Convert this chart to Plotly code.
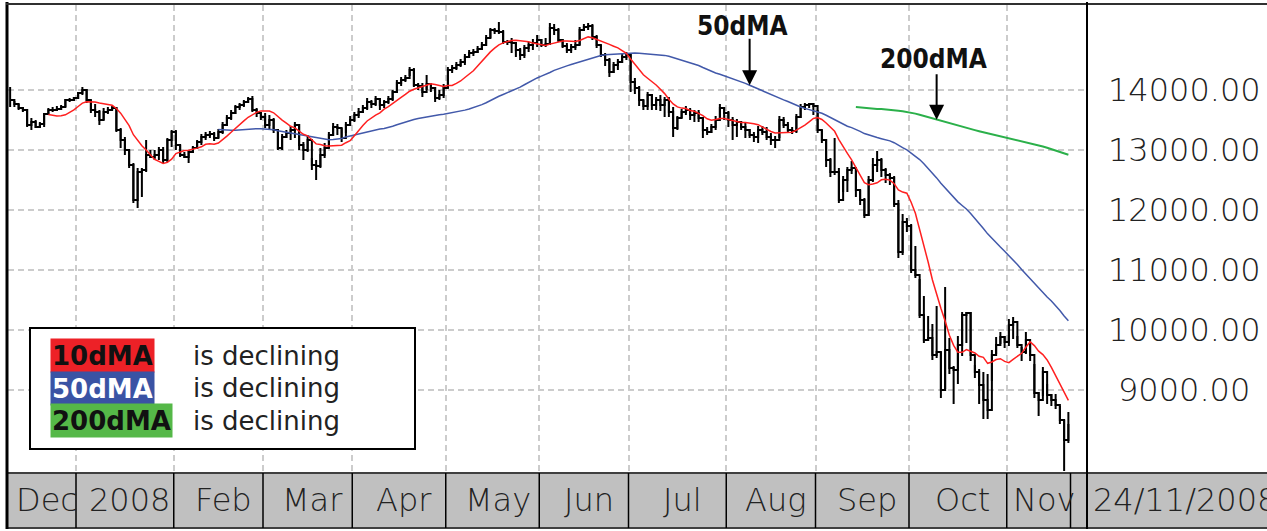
import numpy as np
import pandas as pd
import plotly.graph_objects as go

# ---------------- data ----------------
dates = pd.bdate_range("2007-12-10", "2008-11-21")          # one bar per weekday
month_labels = ["Dec", "2008", "Feb", "Mar", "Apr", "May", "Jun",
                "Jul", "Aug", "Sep", "Oct", "Nov"]
ytick_values = [9000, 10000, 11000, 12000, 13000, 14000]
last_date_label = "24/11/2008"

close = [
    13833, 13767, 13700, 13667, 13417, 13467, 13383, 13433, 13600, 13667,
    13667, 13683, 13717, 13833, 13833, 13867, 13950, 14000, 13833, 13667,
    13633, 13500, 13633, 13667, 13700, 13333, 13167, 13000, 12750, 12167,
    12633, 12667, 12917, 12883, 12917, 13000, 12833, 13167, 13300, 13083,
    12917, 12883, 12967, 13033, 13133, 13217, 13250, 13267, 13200, 13300,
    13417, 13533, 13617, 13717, 13750, 13800, 13850, 13667, 13617, 13550,
    13417, 13500, 13333, 13033, 13217, 13283, 13333, 13417, 13083, 13000,
    13167, 12750, 12733, 12917, 13033, 13250, 13383, 13367, 13200, 13417,
    13500, 13583, 13633, 13700, 13800, 13767, 13850, 13750, 13800, 13850,
    13967, 14117, 14167, 14200, 14333, 14083, 14067, 13967, 14100, 14033,
    13867, 13917, 14033, 14333, 14367, 14417, 14467, 14550, 14617, 14633,
    14683, 14750, 14867, 15000, 14983, 14967, 14800, 14800, 14783, 14667,
    14583, 14700, 14750, 14783, 14833, 14750, 14767, 15033, 15000, 14833,
    14733, 14667, 14717, 14750, 15000, 15050, 15067, 14883, 14750, 14583,
    14500, 14300, 14417, 14467, 14550, 14583, 14133, 14033, 13833, 13733,
    13917, 13750, 13833, 13750, 13833, 13633, 13367, 13533, 13633, 13667,
    13583, 13617, 13533, 13333, 13300, 13383, 13500, 13700, 13617, 13500,
    13417, 13467, 13383, 13333, 13250, 13217, 13333, 13300, 13217, 13167,
    13167, 13500, 13417, 13333, 13317, 13550, 13717, 13750, 13767, 13733,
    13333, 13167, 12833, 12633, 12633, 12167, 12500, 12667, 12700, 12333,
    12167, 11917, 12500, 12750, 12833, 12667, 12583, 12533, 12100, 11300,
    11800, 11733, 11000, 10917, 10250, 9833, 9867, 9583, 9633, 9000,
    9667, 9367, 9333, 9750, 10250, 10283, 9583, 9300, 9083, 8833,
    8667, 9583, 9750, 9883, 9800, 10083, 10133, 9750, 9633, 9833,
    9583, 8950, 8833, 9300, 8917, 8833, 8750, 8500, 8167, 8433,
]

high = [
    14050, 13817, 13767, 13717, 13683, 13533, 13500, 13467, 13617, 13700,
    13717, 13733, 13750, 13850, 13867, 13883, 13967, 14050, 14017, 13833,
    13767, 13667, 13700, 13717, 13733, 13717, 13367, 13217, 13000, 12783,
    12700, 12700, 13167, 13000, 13000, 13050, 13050, 13200, 13333, 13333,
    13083, 12967, 13000, 13067, 13167, 13267, 13300, 13317, 13300, 13350,
    13467, 13583, 13667, 13750, 13783, 13833, 13883, 13900, 13700, 13633,
    13617, 13583, 13533, 13350, 13267, 13333, 13400, 13467, 13433, 13133,
    13250, 12867, 12833, 13033, 13117, 13300, 13450, 13433, 13367, 13467,
    13567, 13633, 13700, 13750, 13867, 13833, 13900, 13867, 13833, 13900,
    14000, 14167, 14217, 14250, 14383, 14367, 14117, 14117, 14250, 14117,
    14050, 14000, 14100, 14383, 14417, 14467, 14517, 14600, 14667, 14683,
    14733, 14800, 14917, 15033, 15033, 15133, 15000, 14833, 14867, 14800,
    14700, 14750, 14800, 14850, 14917, 14850, 14867, 15117, 15100, 15033,
    14850, 14783, 14767, 14833, 15050, 15100, 15117, 15100, 14917, 14750,
    14617, 14533, 14467, 14517, 14617, 14633, 14600, 14200, 14067, 13833,
    13967, 13933, 13883, 13917, 13883, 13883, 13717, 13567, 13683, 13733,
    13700, 13667, 13667, 13550, 13383, 13433, 13567, 13767, 13717, 13650,
    13550, 13517, 13483, 13467, 13350, 13300, 13400, 13400, 13383, 13283,
    13233, 13567, 13550, 13467, 13383, 13600, 13767, 13783, 13783, 13783,
    13667, 13333, 13183, 12867, 13200, 12700, 12567, 12717, 12817, 12683,
    12333, 12200, 12567, 12867, 12983, 12867, 12700, 12617, 12567, 12167,
    11933, 11867, 11767, 11400, 10850, 10567, 10233, 10100, 10400, 9633,
    10717, 9867, 9400, 9900, 10300, 10300, 10300, 9417, 9350, 9300,
    9267, 9667, 9883, 9967, 9900, 10183, 10217, 9900, 9717, 9967,
    9767, 9433, 8967, 9383, 9100, 8933, 8933, 8733, 8500, 8633,
]

low = [
    13717, 13717, 13667, 13633, 13383, 13333, 13367, 13367, 13383, 13583,
    13633, 13650, 13667, 13717, 13800, 13817, 13850, 13917, 13783, 13617,
    13550, 13417, 13500, 13600, 13667, 13300, 13033, 12917, 12700, 12117,
    12033, 12217, 12633, 12867, 12833, 12833, 12783, 12800, 13050, 13000,
    12883, 12867, 12783, 12950, 13017, 13083, 13167, 13200, 13150, 13200,
    13267, 13400, 13500, 13600, 13667, 13717, 13783, 13633, 13550, 13500,
    13367, 13333, 13283, 13000, 13000, 13200, 13167, 13200, 13000, 12833,
    12967, 12667, 12500, 12700, 12867, 13033, 13233, 13250, 13133, 13283,
    13400, 13467, 13533, 13617, 13667, 13700, 13733, 13667, 13700, 13767,
    13817, 13950, 14067, 14133, 14233, 14050, 14000, 13883, 14000, 13967,
    13800, 13833, 13867, 14033, 14283, 14333, 14383, 14417, 14533, 14567,
    14617, 14667, 14733, 14867, 14933, 14933, 14767, 14750, 14617, 14550,
    14500, 14533, 14633, 14667, 14717, 14717, 14717, 14750, 14917, 14800,
    14700, 14617, 14617, 14667, 14750, 14983, 15000, 14833, 14700, 14550,
    14400, 14217, 14283, 14333, 14450, 14500, 13967, 13933, 13733, 13667,
    13667, 13667, 13667, 13650, 13550, 13550, 13217, 13333, 13533, 13583,
    13500, 13467, 13467, 13200, 13250, 13283, 13333, 13533, 13500, 13383,
    13167, 13217, 13333, 13200, 13200, 13133, 13117, 13250, 13167, 13083,
    13033, 13200, 13367, 13283, 13267, 13283, 13533, 13667, 13700, 13583,
    13283, 13117, 12717, 12550, 12583, 12117, 12300, 12300, 12600, 12217,
    12083, 11867, 11900, 12467, 12633, 12550, 12450, 12417, 12050, 11200,
    11250, 11633, 10950, 10867, 10200, 9783, 9817, 9500, 9533, 8867,
    9017, 9267, 8767, 9100, 9567, 9783, 9483, 9200, 8767, 8517,
    8517, 9150, 9600, 9767, 9700, 9733, 9850, 9700, 9483, 9600,
    9483, 8867, 8567, 8900, 8767, 8733, 8683, 8433, 7650, 8117,
]

# ---------------- derived series ----------------
n = len(dates)
idx = np.arange(n)
close_s = pd.Series(close, dtype=float)
ma10 = close_s.rolling(10).mean()
ma50 = close_s.rolling(50).mean()
ma200 = close_s.rolling(200).mean()
hi_err = np.array(high, dtype=float) - close_s.values
lo_err = close_s.values - np.array(low, dtype=float)

# month boundaries (between last bar of a month and first bar of the next)
month_id = dates.year * 12 + dates.month
starts = [0] + [i for i in range(1, n) if month_id[i] != month_id[i - 1]]
bounds = [s - 0.5 for s in starts] + [n - 0.5]
mids = [(bounds[k] + bounds[k + 1]) / 2 + 1.2 for k in range(len(starts))]

# ---------------- geometry helpers (pixels -> paper) ----------------
W, H = 1267, 531
L, R, T, B = 8, 1087, 5, 473
def px(xp):
    return (xp - L) / (R - L)
def py(yp):
    return (B - yp) / (B - T)

GRID = dict(showgrid=True, gridcolor="#cccccc", gridwidth=1.5, griddash="6px,4px",
            zeroline=False, showline=False, ticks="", showticklabels=False)

fig = go.Figure()
fig.add_trace(go.Scatter(x=idx, y=close, mode="lines",
                         line=dict(color="black", width=2, shape="hv"),
                         hoverinfo="skip"))
fig.add_trace(go.Scatter(x=idx, y=close, mode="markers",
                         marker=dict(size=1, color="rgba(0,0,0,0)"),
                         error_y=dict(type="data", symmetric=False, array=hi_err,
                                      arrayminus=lo_err, width=0, thickness=2,
                                      color="black"),
                         hoverinfo="skip"))
fig.add_trace(go.Scatter(x=idx, y=ma200, mode="lines",
                         line=dict(color="#2bb04a", width=2), hoverinfo="skip"))
fig.add_trace(go.Scatter(x=idx, y=ma50, mode="lines",
                         line=dict(color="#4259aa", width=1.5), hoverinfo="skip"))
fig.add_trace(go.Scatter(x=idx, y=ma10, mode="lines",
                         line=dict(color="#ff2020", width=1.5), hoverinfo="skip"))

shapes = []
# grey date strip
shapes.append(dict(type="rect", xref="paper", yref="paper", x0=px(8), x1=px(1267),
                   y0=py(528), y1=py(473), fillcolor="#c0c0c0", line=dict(width=0)))
shapes.append(dict(type="line", xref="paper", yref="paper", x0=px(7), x1=px(1267),
                   y0=py(473), y1=py(473), line=dict(color="#404040", width=2)))
shapes.append(dict(type="line", xref="paper", yref="paper", x0=px(7), x1=px(1267),
                   y0=py(528), y1=py(528), line=dict(color="#404040", width=2)))
for b in bounds[1:]:
    shapes.append(dict(type="line", xref="x", yref="paper", x0=b, x1=b,
                       y0=py(528), y1=py(473), line=dict(color="black", width=1.5)))
# frame
shapes.append(dict(type="line", xref="paper", yref="paper", x0=px(7), x1=px(7),
                   y0=py(2), y1=py(529), line=dict(color="black", width=3)))
shapes.append(dict(type="line", xref="paper", yref="paper", x0=px(6), x1=px(1267),
                   y0=py(4), y1=py(4), line=dict(color="#303030", width=2)))
shapes.append(dict(type="line", xref="paper", yref="paper", x0=px(1087), x1=px(1087),
                   y0=py(2), y1=py(529), line=dict(color="black", width=2)))
# legend box
shapes.append(dict(type="rect", xref="paper", yref="paper", x0=px(30), x1=px(415),
                   y0=py(449), y1=py(328), fillcolor="white",
                   line=dict(color="black", width=2), layer="above"))

ann = []
LABEL_FONT = dict(family="DejaVu Sans Light, DejaVu Sans ExtraLight, DejaVu Sans",
                  size=32, color="#222222", weight=200)
for m, lab in zip(mids, month_labels):
    ann.append(dict(x=m, xref="x", y=py(500), yref="paper", text=lab, showarrow=False,
                    xanchor="center", yanchor="middle", font=LABEL_FONT))
ann.append(dict(x=px(1185), xref="paper", y=py(500), yref="paper", text=last_date_label,
                showarrow=False, xanchor="center", yanchor="middle", font=LABEL_FONT))
for v in ytick_values:
    ann.append(dict(x=px(1184), xref="paper", y=v, yref="y", text=f"{v:.2f}",
                    showarrow=False, xanchor="center", yanchor="middle", font=LABEL_FONT))

# arrows pointing to the moving averages
BOLD = dict(family="DejaVu Sans Condensed, DejaVu Sans", size=26, color="#111111", weight="bold")
i50, i200 = 174, 218
ann.append(dict(x=i50, y=float(ma50[i50]), xref="x", yref="y", text="", showarrow=True,
                ax=0, ay=-48, arrowhead=2, arrowsize=1.5, arrowwidth=2, arrowcolor="black"))
ann.append(dict(x=i200, y=float(ma200[i200]), xref="x", yref="y", text="", showarrow=True,
                ax=0, ay=-47, arrowhead=2, arrowsize=1.5, arrowwidth=2, arrowcolor="black"))
ann.append(dict(x=px(742), y=py(26), xref="paper", yref="paper", text="50dMA",
                showarrow=False, xanchor="center", yanchor="middle", font=BOLD))
ann.append(dict(x=px(933), y=py(59), xref="paper", yref="paper", text="200dMA",
                showarrow=False, xanchor="center", yanchor="middle", font=BOLD))

# legend rows
rows = [("10dMA", "#ed2127", "#111111", 355.5),
        ("50dMA", "#3a53a4", "#ffffff", 388),
        ("200dMA", "#55b848", "#111111", 420.5)]
for name, bg, fc, yc in rows:
    ann.append(dict(x=px(50), y=py(yc), xref="paper", yref="paper", text=f"<b>{name}</b>",
                    showarrow=False, xanchor="left", yanchor="middle", bgcolor=bg,
                    borderpad=1, height=31,
                    font=dict(family="DejaVu Sans", size=26, color=fc)))
    ann.append(dict(x=px(191), y=py(yc), xref="paper", yref="paper", text="is declining",
                    showarrow=False, xanchor="left", yanchor="middle",
                    font=dict(family="DejaVu Sans", size=26, color="#222222")))

fig.update_layout(
    width=W, height=H, margin=dict(l=L, r=W - R, t=T, b=H - B),
    paper_bgcolor="white", plot_bgcolor="white", showlegend=False,
    xaxis=dict(range=[-0.5, (R - L) / 4.25 - 0.5], tickvals=bounds[1:-1], **GRID),
    yaxis=dict(range=[7616.7, 15416.7], tickvals=ytick_values, **GRID),
    shapes=shapes, annotations=ann,
)

fig.write_html("out.html", config={"displayModeBar": False},
               post_script="document.body.style.margin='0px';")
